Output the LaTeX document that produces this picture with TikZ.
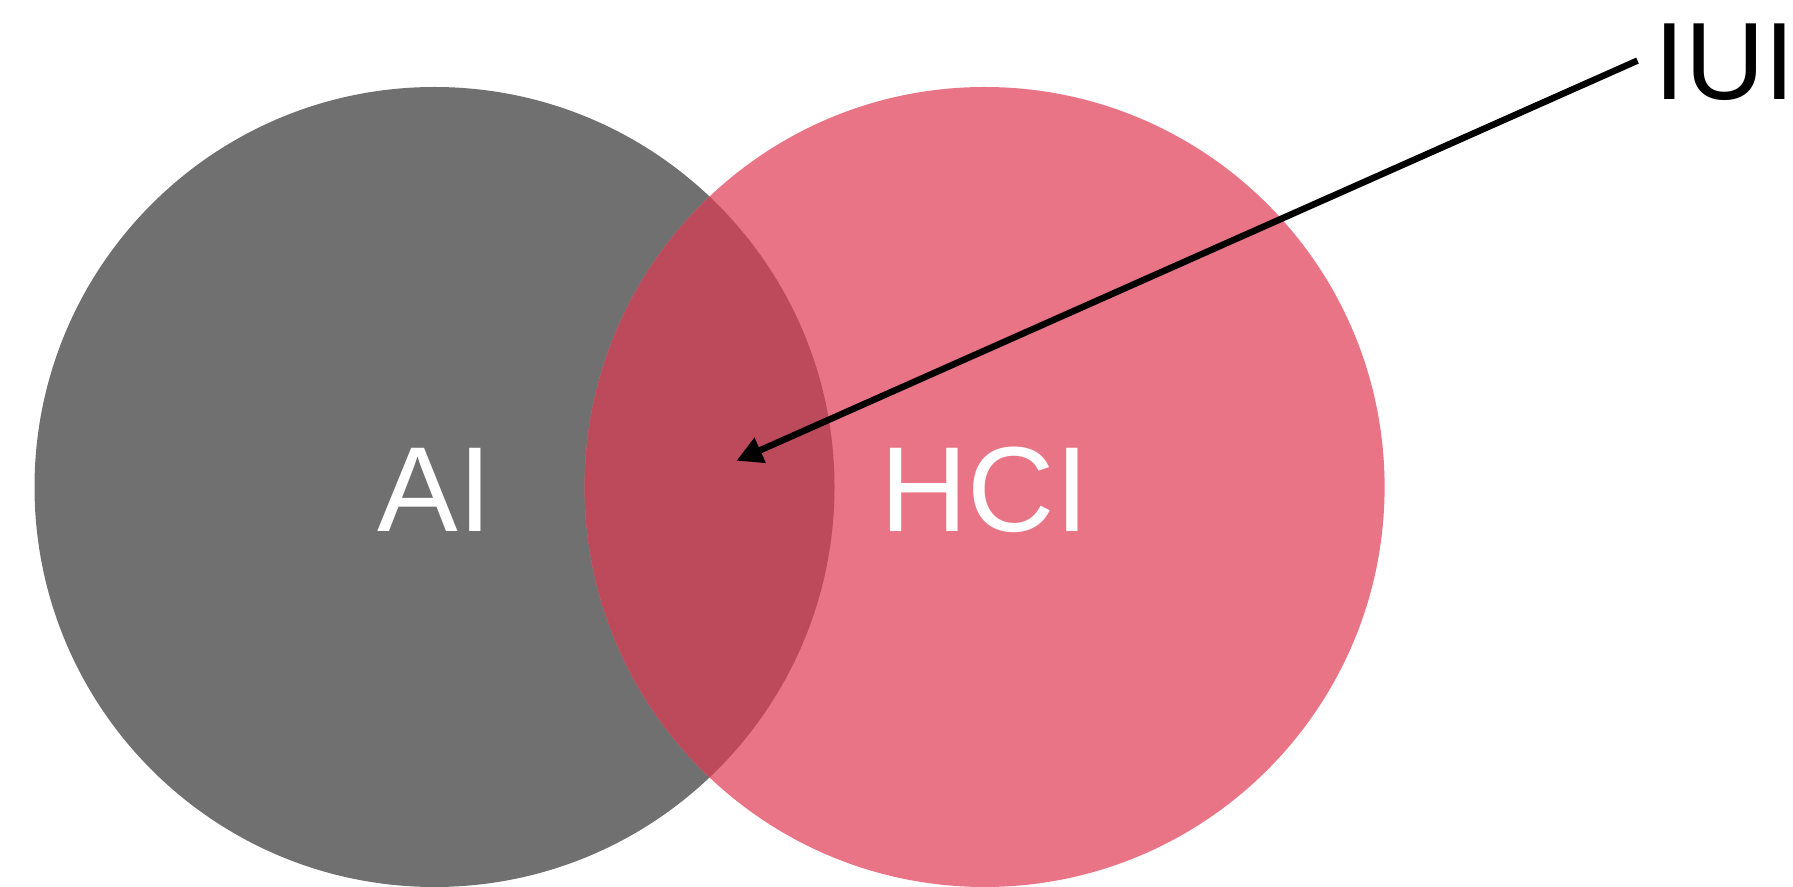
\documentclass[tikz,border=0pt]{standalone}
\usepackage{fontspec}
\setmainfont{Liberation Sans}
\usetikzlibrary{arrows.meta}
\definecolor{aigray}{HTML}{707070}
\definecolor{hcipink}{HTML}{E87485}
\definecolor{overlap}{HTML}{BC4A5B}
\begin{document}
\begin{tikzpicture}[x=1pt,y=1pt,
  setlabel/.style={text=white,font=\fontsize{121}{121}\selectfont,inner sep=0pt},
  pointer/.style={line width=6.5pt,-{Triangle[length=26pt,width=26pt]}}]
\useasboundingbox (0,0) rectangle (1793,886);
% the two sets
\fill[aigray] (434.5,399) circle (400);
\fill[hcipink] (984.6,399) circle (400);
% their intersection
\begin{scope}
  \clip (434.5,399) circle (400);
  \fill[overlap] (984.6,399) circle (400);
\end{scope}
\node[setlabel] (ai) at (435,396) {AI};
\node[setlabel] (hci) at (984.6,396) {HCI};
\node[inner sep=0pt,font=\fontsize{110}{110}\selectfont] (iui) at (1725,824) {IUI};
\coordinate (tail) at (1637.5,825.4);
\coordinate (tip) at (736.4,425.2);
\draw[pointer] (tail) -- (tip);
\end{tikzpicture}
\end{document}
